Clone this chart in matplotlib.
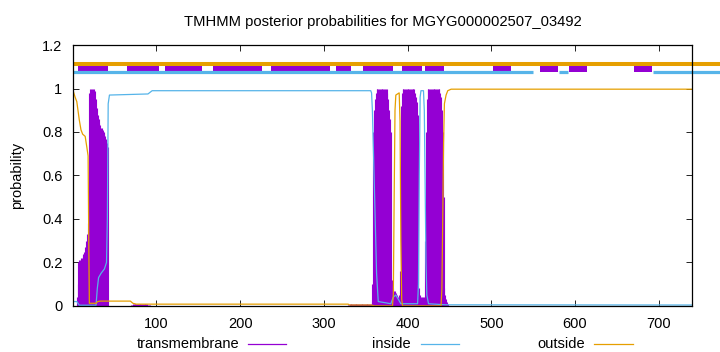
import numpy as np
import matplotlib
matplotlib.use("Agg")
from matplotlib import pyplot as plt
from matplotlib.lines import Line2D

plt.rcParams['font.family'] = ['Liberation Sans', 'DejaVu Sans']

# colours (gnuplot defaults)
c_tm = '#9400D3'
c_in = '#56B4E9'
c_out = '#E69F00'

seq_len = 740

# transmembrane posterior, read per residue (zero elsewhere)
tm1_start = 5
tm1 = [0.04, 0.1, 0.2, 0.21, 0.21, 0.22, 0.22, 0.23, 0.24, 0.25, 0.27, 0.3, 0.33, 0.38,
       0.46, 0.98, 1.0, 1.0, 1.0, 1.0, 1.0, 0.99, 0.99, 0.95, 0.91, 0.88, 0.86, 0.84,
       0.83, 0.82, 0.82, 0.81, 0.8, 0.79, 0.78, 0.77, 0.75, 0.73]
bump1_start = 70
bump1 = [0.004, 0.006, 0.007, 0.008, 0.008, 0.008, 0.008, 0.008, 0.008, 0.008, 0.008, 0.008,
         0.008, 0.008, 0.008, 0.008, 0.008, 0.008, 0.008, 0.007, 0.006, 0.005, 0.004]
bump2_start = 329
bump2 = [0.004, 0.006, 0.007, 0.008, 0.008, 0.009, 0.009, 0.009, 0.009, 0.009, 0.009, 0.009,
         0.009, 0.009, 0.009, 0.009, 0.009, 0.009, 0.009, 0.009, 0.009, 0.009, 0.008, 0.008,
         0.008, 0.008, 0.008]
tm2_start = 356
tm2 = [0.01, 0.02, 0.1, 0.8, 0.9, 0.95, 0.98,
       1.0, 1.0, 1.0, 1.0, 1.0, 1.0, 1.0, 1.0, 1.0, 1.0, 1.0, 1.0, 1.0,
       0.98, 0.95, 0.9, 0.86, 0.8, 0.12, 0.09, 0.08, 0.07, 0.07, 0.06, 0.05, 0.04, 0.03,
       0.05, 0.16, 0.92, 0.98,
       1.0, 1.0, 1.0, 1.0, 1.0, 1.0, 1.0, 1.0, 1.0, 1.0, 1.0, 1.0, 1.0, 1.0, 1.0,
       0.98, 0.96, 0.94, 0.88, 0.84, 0.08, 0.05, 0.04, 0.04, 0.04, 0.03, 0.04,
       0.3, 0.8, 0.95,
       1.0, 1.0, 1.0, 1.0, 1.0, 1.0, 1.0, 1.0, 1.0, 1.0, 1.0, 1.0, 1.0, 1.0, 1.0,
       0.98, 0.96, 0.9, 0.8, 0.5, 0.08, 0.05, 0.03, 0.02, 0.01]

# inside / outside posterior, breakpoints
in_pos = [1, 5, 8, 28, 29.5, 31, 34, 38, 40.5, 41.5, 42.5, 44, 90, 95, 356, 357, 358, 359,
          361, 363, 365, 380, 383, 386, 389, 392, 412, 413, 414, 415, 416, 419, 420, 421,
          422, 423, 425, 445, 740]
in_val = [0.02, 0.02, 0.003, 0.003, 0.08, 0.13, 0.15, 0.17, 0.2, 0.4, 0.93, 0.97, 0.975,
          0.99, 0.99, 0.98, 0.9, 0.75, 0.45, 0.15, 0.02, 0.01, 0.04, 0.05, 0.03, 0.01, 0.01,
          0.1, 0.6, 0.96, 0.99, 0.99, 0.9, 0.55, 0.2, 0.05, 0.01, 0.005, 0.004]
out_pos = [1, 3, 5, 8, 10, 12, 15, 17, 18.5, 19.3, 20, 28, 30, 33, 69, 72, 76, 329, 331,
           357, 360, 382, 383, 384, 385, 386, 390, 391, 392, 393, 394, 440, 441, 442, 443,
           444, 446, 448, 452, 740]
out_val = [0.985, 0.96, 0.94, 0.855, 0.81, 0.79, 0.78, 0.73, 0.69, 0.3, 0.012, 0.012, 0.02,
           0.022, 0.022, 0.012, 0.008, 0.008, 0.004, 0.004, 0.0, 0.0, 0.05, 0.5, 0.9, 0.97,
           0.98, 0.85, 0.3, 0.03, 0.0, 0.0, 0.08, 0.4, 0.75, 0.93, 0.97, 0.99, 0.997, 0.997]

# predicted topology bars at the top (residue ranges)
out_bars = [(1, 773)]
in_bars = [(1, 550), (581, 592), (693, 773)]
tm_bars_big = [(18, 42), (347, 383), (393, 417), (421, 443)]
tm_bars_small = [(6, 18), (65, 103), (110, 155), (168, 226), (237, 307), (314, 332),
                 (502, 523), (558, 580), (593, 614), (670, 692)]

tm = np.zeros(seq_len + 1)
for start, vals in [(tm1_start, tm1), (bump1_start, bump1), (bump2_start, bump2), (tm2_start, tm2)]:
    tm[start:start + len(vals)] = vals
res = np.arange(1, seq_len + 1)

fig = plt.figure(figsize=(7.2, 3.52), dpi=100)
ax = fig.add_axes([0.102, 0.131, 0.8595, 0.741])

ax.vlines(res, 0, tm[1:], colors=c_tm, linewidth=0.8)
ax.plot(in_pos, in_val, color=c_in, lw=0.9)
ax.plot(out_pos, out_val, color=c_out, lw=0.9)

for a, b in out_bars:
    ax.hlines(1.114, a, b, colors=c_out, lw=2.9, clip_on=False)
for a, b in in_bars:
    ax.hlines(1.075, a, b, colors=c_in, lw=2.3, clip_on=False)
ax.broken_barh([(a, b - a) for a, b in tm_bars_small], (1.077, 0.028), facecolors=c_tm, clip_on=False)
ax.broken_barh([(a, b - a) for a, b in tm_bars_big], (1.07, 0.046), facecolors=c_tm, clip_on=False)

ax.set_xlim(1, seq_len)
ax.set_ylim(0, 1.2)
ax.set_xticks([100, 200, 300, 400, 500, 600, 700])
ax.set_yticks([0, 0.2, 0.4, 0.6, 0.8, 1.0, 1.2])
ax.set_yticklabels(['0', '0.2', '0.4', '0.6', '0.8', '1', '1.2'])
ax.tick_params(direction='in', top=True, right=True, length=4, width=0.6, labelsize=10.5)
ax.tick_params(axis='x', pad=8)
ax.tick_params(axis='y', pad=8)
for s in ax.spines.values():
    s.set_linewidth(0.9)
ax.set_ylabel('probability', fontsize=10.5, labelpad=13)
ax.set_title('TMHMM posterior probabilities for MGYG000002507_03492', fontsize=10.6, pad=14)

# legend along the bottom
leg = [('transmembrane', c_tm, 239, 248, 286), ('inside', c_in, 411, 421, 459),
       ('outside', c_out, 585, 594, 633)]
for name, col, tx, x0, x1 in leg:
    fig.text(tx / 720, 1 - 344 / 352, name, ha='right', va='center', fontsize=10.5)
    fig.add_artist(Line2D([x0 / 720, x1 / 720], [1 - 344 / 352] * 2, color=col, lw=0.9))

plt.savefig("out.png", dpi=100)
